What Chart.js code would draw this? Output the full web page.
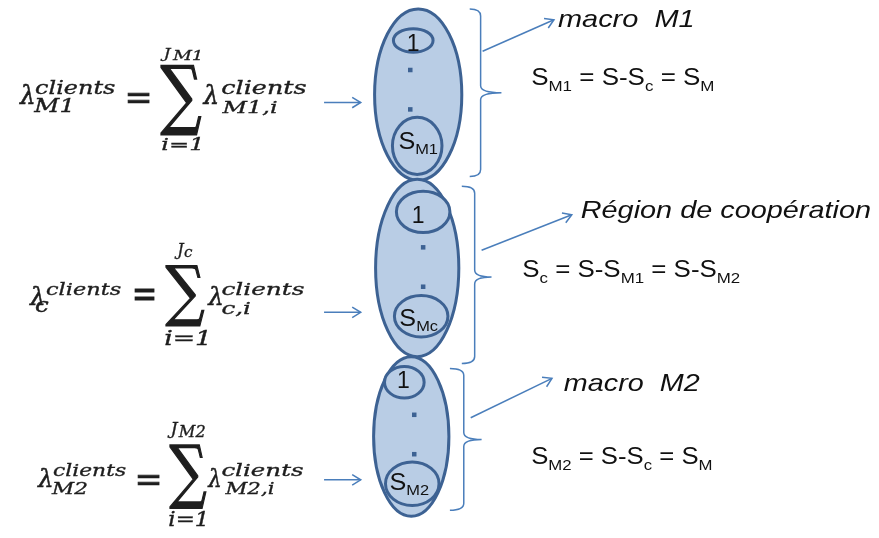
<!DOCTYPE html>
<html>
<head>
<meta charset="utf-8">
<script src="https://cdn.jsdelivr.net/npm/chart.js@4.4.1/dist/chart.umd.min.js"></script>
<style>
html, body { margin: 0; padding: 0; background: #fff; }
canvas { display: block; }
</style>
</head>
<body>
<canvas id="diagram" width="879" height="538"></canvas>
<script>
// the three zones of the network, top to bottom
var zones = ['M1', 'c', 'M2'];
var zoneTitles = ['macro  M1', 'Région de coopération', 'macro  M2'];
var firstCell = ['1', '1', '1'];
var lastCellSub = ['M1', 'Mc', 'M2'];
var lambdaSup = 'clients';
var lambdaSub = ['M1', 'c', 'M2'];
var lambdaSubI = ['M1,i', 'c,i', 'M2,i'];
var sumUpperSub = ['M1', 'c', 'M2'];
var sumLower = 'i=1';
// S relations, pieces are [text, isSubscript]
var zoneSizes = [
    [['S', 0], ['M1', 1], [' = S-S', 0], ['c', 1], [' = S', 0], ['M', 1]],
    [['S', 0], ['c', 1], [' = S-S', 0], ['M1', 1], [' = S-S', 0], ['M2', 1]],
    [['S', 0], ['M2', 1], [' = S-S', 0], ['c', 1], [' = S', 0], ['M', 1]]
];

// ---- layout (diagram units = pixels of the 879x538 picture) ----
var bigCells = [[418, 92, 44, 87], [417, 268, 42, 90], [411, 439, 38, 81]];
var firstCells = [[413, 37, 20, 12], [423, 211, 27, 21], [404, 384, 20, 16]];
var lastCells = [[417, 144, 25, 29], [421, 317, 27, 21], [412, 487, 27, 22]];
var dotsPos = [[410, 67], [410, 107], [423, 247], [423, 287], [414, 417], [414, 457]];
var inArrows = [[323, 100, 360, 100], [323, 313, 360, 313], [323, 483, 360, 483]];
var outArrows = [[483, 48, 555, 16], [482, 250, 573, 214], [471, 420, 553, 380]];
// x0, xv, tip, top, mid, bottom
var braces = [[470, 481, 502, 5, 90, 175], [462, 475, 492, 185, 277, 365], [450, 464, 482, 370, 442, 514]];
// [x, baseline, right edge]
var titlePos = [[559, 23, 697], [582, 217, 875], [565, 393, 702]];
var sizePos = [[532, 82, 717], [523, 277, 743], [532, 467, 715]];
var firstLabelPos = [[413, 48], [418, 222], [403, 390]];
var lastLabelPos = [[398, 147, 438], [399, 327, 438], [389, 493, 429]];
// formula boxes [x0, x1, y0, y1]
var formulas = [
    { lam1: [15, 30, 82, 102], sup1: [32, 112, 78, 92], sub1: [30, 67, 97, 110], eq: [125, 147, 90, 100],
      sig: [158, 200, 62, 133], upJ: [158, 169, 45, 57], upS: [170, 198, 47, 57], low: [160, 198, 135, 148],
      lam2: [200, 215, 82, 102], sup2: [220, 305, 78, 92], sub2: [220, 275, 97, 113] },
    { lam1: [25, 40, 287, 306], sup1: [43, 118, 283, 296], sub1: [32, 45, 302, 313], eq: [132, 152, 290, 301],
      sig: [163, 203, 265, 327], upJ: [172, 182, 242, 258], upS: [182, 190, 249, 257], low: [163, 205, 331, 346],
      lam2: [205, 220, 287, 306], sup2: [220, 303, 283, 296], sub2: [220, 248, 302, 317] },
    { lam1: [33, 48, 471, 490], sup1: [50, 123, 467, 480], sub1: [48, 84, 484, 497], eq: [135, 157, 478, 488],
      sig: [167, 205, 447, 512], upJ: [165, 176, 425, 440], upS: [176, 203, 428, 440], low: [167, 203, 515, 530],
      lam2: [205, 218, 471, 490], sup2: [220, 302, 467, 480], sub2: [223, 272, 484, 500] }
];

var cellFill = '#b9cde5';
var cellLine = '#3d6293';
var linkColor = '#4a7ebb';
var mathFont = 'italic 40px "DejaVu Serif"';
var mathUpright = '40px "DejaVu Serif"';
var sansFont = '"Liberation Sans", Arial, sans-serif';

function fitBox(chart, ctx, text, font, b) {
    var x0 = chart.scales.x.getPixelForValue(b[0]);
    var x1 = chart.scales.x.getPixelForValue(b[1]);
    var y0 = chart.scales.y.getPixelForValue(b[2]);
    var y1 = chart.scales.y.getPixelForValue(b[3]);
    ctx.save();
    ctx.font = font;
    ctx.textAlign = 'left';
    ctx.textBaseline = 'alphabetic';
    var m = ctx.measureText(text);
    var w = m.actualBoundingBoxLeft + m.actualBoundingBoxRight;
    var h = m.actualBoundingBoxAscent + m.actualBoundingBoxDescent;
    ctx.translate(x0, y0);
    ctx.scale((x1 - x0) / w, (y1 - y0) / h);
    ctx.fillText(text, m.actualBoundingBoxLeft, m.actualBoundingBoxAscent);
    ctx.lineWidth = 0.8;
    ctx.strokeStyle = ctx.fillStyle;
    ctx.strokeText(text, m.actualBoundingBoxLeft, m.actualBoundingBoxAscent);
    ctx.restore();
}

// pieces [text, isSub]; stretched horizontally to end at xr
function richText(chart, ctx, pieces, x, y, xr, size, subSize, subDy, style) {
    var px = chart.scales.x.getPixelForValue(x);
    var py = chart.scales.y.getPixelForValue(y);
    var pr = chart.scales.x.getPixelForValue(xr);
    ctx.save();
    var total = 0, widths = [];
    pieces.forEach(function (p) {
        ctx.font = style + ' ' + (p[1] ? subSize : size) + 'px ' + sansFont;
        var w = ctx.measureText(p[0]).width;
        widths.push(w);
        total += w;
    });
    ctx.translate(px, py);
    ctx.scale((pr - px) / total, 1);
    ctx.textBaseline = 'alphabetic';
    ctx.fillStyle = '#111';
    var cx = 0;
    pieces.forEach(function (p, i) {
        ctx.font = style + ' ' + (p[1] ? subSize : size) + 'px ' + sansFont;
        ctx.fillText(p[0], cx, p[1] ? subDy : 0);
        cx += widths[i];
    });
    ctx.restore();
}

function ellipse(chart, ctx, e, lw) {
    var sx = chart.scales.x, sy = chart.scales.y;
    var cx = sx.getPixelForValue(e[0]), cy = sy.getPixelForValue(e[1]);
    var rx = sx.getPixelForValue(e[0] + e[2]) - cx;
    var ry = sy.getPixelForValue(e[1] + e[3]) - cy;
    ctx.beginPath();
    ctx.ellipse(cx, cy, Math.abs(rx), Math.abs(ry), 0, 0, Math.PI * 2);
    ctx.fillStyle = cellFill;
    ctx.fill();
    ctx.lineWidth = lw;
    ctx.strokeStyle = cellLine;
    ctx.stroke();
}

function arrowHead(chart, ctx, a) {
    var sx = chart.scales.x, sy = chart.scales.y;
    var x1 = sx.getPixelForValue(a[0]), y1 = sy.getPixelForValue(a[1]);
    var x2 = sx.getPixelForValue(a[2]), y2 = sy.getPixelForValue(a[3]);
    var ang = Math.atan2(y2 - y1, x2 - x1);
    var len = 10;
    ctx.beginPath();
    ctx.moveTo(x2 - len * Math.cos(ang - 0.55), y2 - len * Math.sin(ang - 0.55));
    ctx.lineTo(x2, y2);
    ctx.lineTo(x2 - len * Math.cos(ang + 0.55), y2 - len * Math.sin(ang + 0.55));
    ctx.strokeStyle = linkColor;
    ctx.lineWidth = 1.5;
    ctx.stroke();
}

function brace(chart, ctx, b) {
    var sx = chart.scales.x, sy = chart.scales.y;
    var x0 = sx.getPixelForValue(b[0]), xv = sx.getPixelForValue(b[1]), tip = sx.getPixelForValue(b[2]);
    var top = sy.getPixelForValue(b[3]), mid = sy.getPixelForValue(b[4]), bot = sy.getPixelForValue(b[5]);
    var r = 7;
    ctx.beginPath();
    ctx.moveTo(x0, top);
    ctx.quadraticCurveTo(xv, top, xv, top + r);
    ctx.lineTo(xv, mid - r);
    ctx.quadraticCurveTo(xv, mid, tip, mid);
    ctx.moveTo(tip, mid);
    ctx.quadraticCurveTo(xv, mid, xv, mid + r);
    ctx.lineTo(xv, bot - r);
    ctx.quadraticCurveTo(xv, bot, x0, bot);
    ctx.strokeStyle = linkColor;
    ctx.lineWidth = 1.5;
    ctx.stroke();
}

var diagramPlugin = {
    id: 'diagram',
    beforeDatasetsDraw: function (chart) {
        var ctx = chart.ctx;
        zones.forEach(function (z, i) {
            ellipse(chart, ctx, bigCells[i], 3);
            ellipse(chart, ctx, firstCells[i], 3);
            ellipse(chart, ctx, lastCells[i], 3);
        });
    },
    afterDatasetsDraw: function (chart) {
        var ctx = chart.ctx;
        ctx.save();
        inArrows.concat(outArrows).forEach(function (a) { arrowHead(chart, ctx, a); });
        braces.forEach(function (b) { brace(chart, ctx, b); });

        zones.forEach(function (z, i) {
            // labels inside the cells
            var fp = firstLabelPos[i];
            ctx.font = '23px ' + sansFont;
            ctx.fillStyle = '#111';
            ctx.textAlign = 'center';
            ctx.textBaseline = 'alphabetic';
            ctx.fillText(firstCell[i], chart.scales.x.getPixelForValue(fp[0]), chart.scales.y.getPixelForValue(fp[1]));
            ctx.textAlign = 'left';
            var lp = lastLabelPos[i];
            richText(chart, ctx, [['S', 0], [lastCellSub[i], 1]], lp[0], lp[1], lp[2], 23, 15, 5, 'normal');

            // zone titles and sizes
            var t = titlePos[i];
            richText(chart, ctx, [[zoneTitles[i], 0]], t[0], t[1], t[2], 24, 24, 0, 'italic');
            var s = sizePos[i];
            richText(chart, ctx, zoneSizes[i], s[0], s[1], s[2], 23, 15, 6, 'normal');

            // arrival rate formulas
            var f = formulas[i];
            ctx.fillStyle = '#1e1e1e';
            fitBox(chart, ctx, 'λ', mathFont, f.lam1);
            fitBox(chart, ctx, lambdaSup, mathFont, f.sup1);
            fitBox(chart, ctx, lambdaSub[i], mathFont, f.sub1);
            fitBox(chart, ctx, '=', mathUpright, f.eq);
            fitBox(chart, ctx, '∑', mathUpright, f.sig);
            fitBox(chart, ctx, 'J', mathFont, f.upJ);
            fitBox(chart, ctx, sumUpperSub[i], mathFont, f.upS);
            fitBox(chart, ctx, sumLower, mathFont, f.low);
            fitBox(chart, ctx, 'λ', mathFont, f.lam2);
            fitBox(chart, ctx, lambdaSup, mathFont, f.sup2);
            fitBox(chart, ctx, lambdaSubI[i], mathFont, f.sub2);
        });
        ctx.restore();
    }
};

var datasets = [{
    label: 'dots',
    data: dotsPos.map(function (d) { return { x: d[0], y: d[1] }; }),
    pointStyle: 'rect',
    pointRadius: 3.2,
    backgroundColor: cellLine,
    borderColor: cellLine,
    borderWidth: 0
}];
inArrows.concat(outArrows).forEach(function (a, i) {
    datasets.push({
        label: 'link' + i,
        data: [{ x: a[0], y: a[1] }, { x: a[2], y: a[3] }],
        showLine: true,
        borderColor: linkColor,
        borderWidth: 1.5,
        pointRadius: 0
    });
});

var chart = new Chart(document.getElementById('diagram'), {
    type: 'scatter',
    data: { datasets: datasets },
    options: {
        responsive: false,
        animation: false,
        layout: { padding: 0 },
        plugins: { legend: { display: false }, tooltip: { enabled: false } },
        scales: {
            x: { type: 'linear', min: 0, max: 879, display: false },
            y: { type: 'linear', min: 0, max: 538, reverse: true, display: false }
        }
    },
    plugins: [diagramPlugin]
});
</script>
</body>
</html>
